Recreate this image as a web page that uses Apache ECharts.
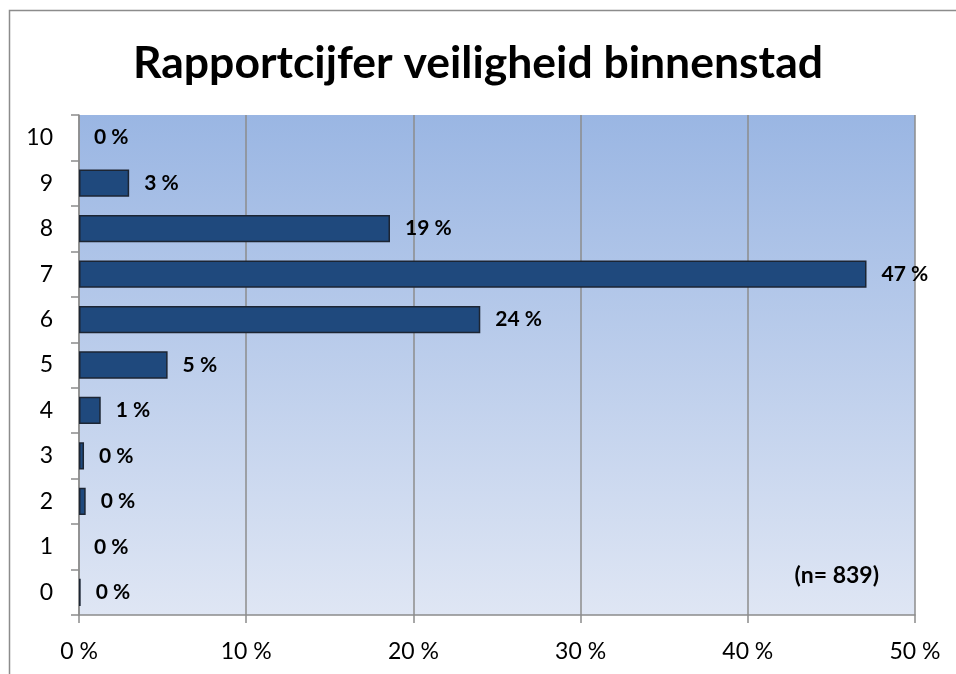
<!DOCTYPE html>
<html>
<head>
<meta charset="utf-8">
<script src="https://cdn.jsdelivr.net/npm/echarts@6/dist/echarts.min.js"></script>
<style>
html, body { margin: 0; padding: 0; background: #fff; }
#main { width: 956px; height: 674px; }
</style>
</head>
<body>
<div id="main"></div>
<script>
// rapportcijfers 0..10
var categories = ['0', '1', '2', '3', '4', '5', '6', '7', '8', '9', '10'];
var percentages = [0.1, 0, 0.4, 0.3, 1.3, 5.3, 24.0, 47.1, 18.6, 3.0, 0];
var xTicks = [0, 10, 20, 30, 40, 50];

var FONT = 'Lato';

// nul-waarden zonder rand tekenen
var barData = percentages.map(function(v) {
	return v > 0 ? v : { value : v, itemStyle : { borderWidth : 0 } };
});

var myChart = echarts.init(document.getElementById('main'));

myChart.setOption({
	backgroundColor : '#ffffff',
	title : {
		text : 'Rapportcijfer veiligheid binnenstad',
		left : 'center',
		top : 36,
		textStyle : {
			fontFamily : FONT,
			fontSize : 44.5,
			fontWeight : 'bold',
			color : '#000'
		}
	},
	graphic : [ {
		type : 'polyline',
		shape : {
			points : [ [ 9.5, 674 ], [ 9.5, 10.5 ], [ 956, 10.5 ] ]
		},
		style : {
			stroke : '#8c8c8c',
			lineWidth : 1.5,
			fill : null
		}
	}, {
		type : 'text',
		right : 77,
		top : 564,
		style : {
			text : '(n= 839)',
			font : 'bold 23px ' + FONT,
			fill : '#000'
		}
	} ],
	grid : {
		left : 79,
		right : 41,
		top : 115,
		bottom : 59,
		show : true,
		borderWidth : 0,
		backgroundColor : new echarts.graphic.LinearGradient(0, 0, 0, 1, [ {
			offset : 0,
			color : '#9ab6e3'
		}, {
			offset : 1,
			color : '#dfe6f4'
		} ])
	},
	xAxis : {
		type : 'value',
		min : 0,
		max : 50,
		interval : 10,
		axisLine : {
			show : true,
			lineStyle : { color : '#8c8c8c', width : 1.5 }
		},
		axisTick : {
			show : true,
			length : 8,
			lineStyle : { color : '#8c8c8c', width : 1.5 }
		},
		splitLine : {
			show : true,
			lineStyle : { color : '#8c8c8c', width : 1.5 }
		},
		axisLabel : {
			margin : 25,
			fontFamily : FONT,
			fontSize : 23,
			color : '#000',
			formatter : function(v) {
				return xTicks.indexOf(v) >= 0 ? v + ' %' : '';
			}
		}
	},
	yAxis : {
		type : 'category',
		data : categories,
		axisLine : {
			show : true,
			lineStyle : { color : '#8c8c8c', width : 1.5 }
		},
		axisTick : {
			show : true,
			length : 8,
			lineStyle : { color : '#8c8c8c', width : 1.5 }
		},
		axisLabel : {
			margin : 26,
			fontFamily : FONT,
			fontSize : 23,
			color : '#000'
		}
	},
	series : [ {
		name : 'Percentage',
		type : 'bar',
		data : barData,
		barCategoryGap : '40%',
		itemStyle : {
			color : '#1f497d',
			borderColor : '#1c2533',
			borderWidth : 1.5
		},
		label : {
			show : true,
			position : 'right',
			distance : 15,
			fontFamily : FONT,
			fontSize : 21,
			fontWeight : 'bold',
			color : '#000',
			formatter : function(p) {
				return Math.round(p.value) + ' %';
			}
		}
	} ]
});
</script>
</body>
</html>
